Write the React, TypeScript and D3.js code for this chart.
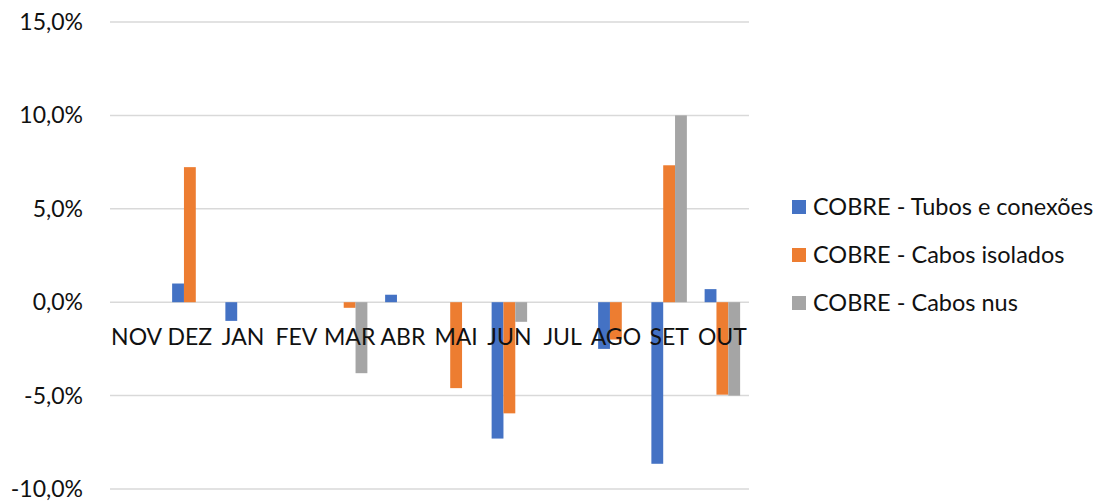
import React from "react";
import * as d3 from "d3";

const categories = ["NOV", "DEZ", "JAN", "FEV", "MAR", "ABR", "MAI", "JUN", "JUL", "AGO", "SET", "OUT"];
const seriesNames = ["COBRE - Tubos e conexões", "COBRE - Cabos isolados", "COBRE - Cabos nus"];
const tubos = [0, 1.0, -1.0, 0, 0, 0.4, 0, -7.3, 0, -2.5, -8.65, 0.7];
const cabosIsolados = [0, 7.23, 0, 0, -0.3, 0, -4.6, -5.95, 0, -2.0, 7.33, -4.95];
const cabosNus = [0, 0, 0, 0, -3.8, 0, 0, -1.05, 0, 0, 10.0, -5.0];
const yTicks = [-10, -5, 0, 5, 10, 15];
const colors = ["#4472C4", "#ED7D31", "#A5A5A5"];

const W = 1105;
const H = 502;
const FONT = "Lato, 'Open Sans', sans-serif";

export default function App() {
  const series = [tubos, cabosIsolados, cabosNus];
  const x = d3.scaleBand<string>().domain(categories).range([110, 749]).paddingInner(0).paddingOuter(0);
  const y = d3.scaleLinear().domain([-10, 15]).range([489, 22]);
  const groupW = x.bandwidth() / 4.5 * 3;
  const x1 = d3.scaleBand<number>().domain([0, 1, 2]).range([0, groupW]);
  const fmt = (v: number) => d3.format(".1f")(v).replace(".", ",").replace("−", "-") + "%";

  return (
    <svg width={W} height={H} style={{ position: "absolute", left: 0, top: 0, background: "#fff" }}>
      {yTicks.map((t) => (
        <g key={t}>
          <line x1={110} x2={749} y1={y(t)} y2={y(t)} stroke="#d9d9d9" strokeWidth={1.5} />
          <text x={83} y={y(t)} dy="0.35em" textAnchor="end" fontFamily={FONT} fontSize={23} fill="#111">
            {fmt(t)}
          </text>
        </g>
      ))}
      {series.map((vals, si) =>
        vals.map((v, ci) => {
          if (v === 0) return null;
          const cx = (x(categories[ci]) as number) + x.bandwidth() / 2 - groupW / 2 + (x1(si) as number);
          return (
            <rect
              key={`${si}-${ci}`}
              x={cx}
              width={x1.bandwidth()}
              y={Math.min(y(v), y(0))}
              height={Math.abs(y(v) - y(0))}
              fill={colors[si]}
            />
          );
        })
      )}
      {categories.map((c) => (
        <text
          key={c}
          x={(x(c) as number) + x.bandwidth() / 2}
          y={345}
          textAnchor="middle"
          fontFamily={FONT}
          fontSize={23}
          fill="#111"
        >
          {c}
        </text>
      ))}
      {seriesNames.map((n, i) => (
        <g key={n} transform={`translate(792, ${207 + i * 48})`}>
          <rect x={0} y={-7} width={14} height={14} fill={colors[i]} />
          <text x={21} y={0} dy="0.35em" fontFamily={FONT} fontSize={23.5} fill="#111">
            {n}
          </text>
        </g>
      ))}
    </svg>
  );
}
